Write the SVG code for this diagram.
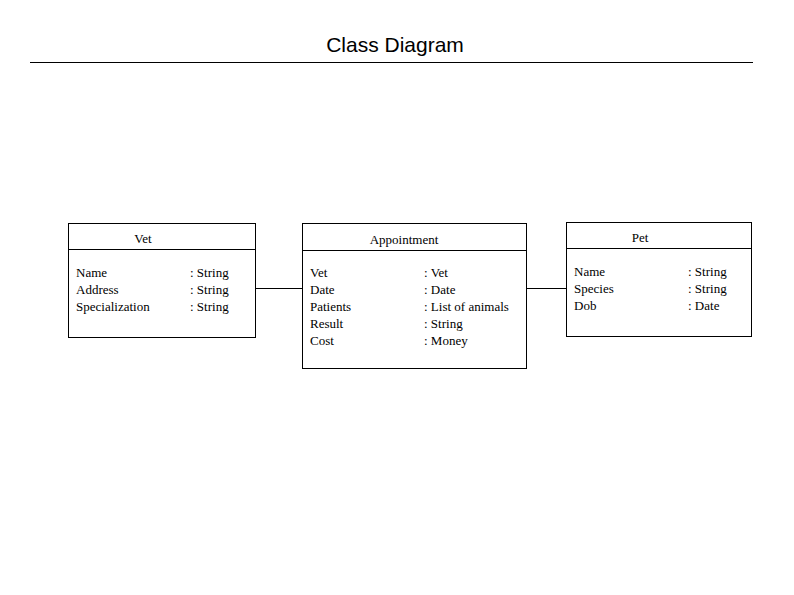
<svg xmlns="http://www.w3.org/2000/svg" width="794" height="595" viewBox="0 0 794 595">
<style>
.b{fill:#fff;stroke:#000;stroke-width:1}
.l{stroke:#000;stroke-width:1;fill:none}
text{font-family:"Liberation Serif",serif;font-size:13px;fill:#000}
.t{font-family:"Liberation Sans",sans-serif;font-size:21px}
</style>
<rect width="794" height="595" fill="#fff"/>
<text class="t" x="395" y="52" text-anchor="middle">Class Diagram</text>
<line class="l" x1="30" y1="62.5" x2="753" y2="62.5"/>
<g id="connectors">
<line class="l" x1="255" y1="288.5" x2="302" y2="288.5"/>
<line class="l" x1="526" y1="288.5" x2="566" y2="288.5"/>
</g>
<g id="vet">
<rect class="b" x="68.5" y="223.5" width="187" height="114"/>
<line class="l" x1="68.5" y1="249.5" x2="255.5" y2="249.5"/>
<text x="143" y="243" text-anchor="middle">Vet</text>
<text x="76" y="277">Name</text><text x="76" y="294">Address</text><text x="76" y="311">Specialization</text>
<text x="190" y="277">: String</text><text x="190" y="294">: String</text><text x="190" y="311">: String</text>
</g>
<g id="appointment">
<rect class="b" x="302.5" y="223.5" width="224" height="145"/>
<line class="l" x1="302.5" y1="250.5" x2="526.5" y2="250.5"/>
<text x="404" y="244" text-anchor="middle">Appointment</text>
<text x="310" y="277">Vet</text><text x="310" y="294">Date</text><text x="310" y="311">Patients</text><text x="310" y="328">Result</text><text x="310" y="345">Cost</text>
<text x="424" y="277">: Vet</text><text x="424" y="294">: Date</text><text x="424" y="311">: List of animals</text><text x="424" y="328">: String</text><text x="424" y="345">: Money</text>
</g>
<g id="pet">
<rect class="b" x="566.5" y="222.5" width="185" height="114"/>
<line class="l" x1="566.5" y1="248.5" x2="751.5" y2="248.5"/>
<text x="640" y="242" text-anchor="middle">Pet</text>
<text x="574" y="276">Name</text><text x="574" y="293">Species</text><text x="574" y="310">Dob</text>
<text x="688" y="276">: String</text><text x="688" y="293">: String</text><text x="688" y="310">: Date</text>
</g>
</svg>
